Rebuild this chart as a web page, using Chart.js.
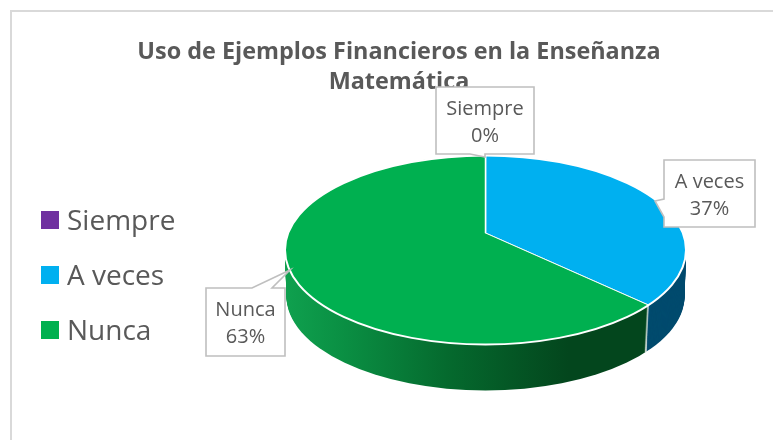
<!DOCTYPE html>
<html>
<head>
<meta charset="utf-8">
<style>html,body{margin:0;padding:0;background:#fff;overflow:hidden}canvas{display:block}</style>
<script src="https://cdn.jsdelivr.net/npm/chart.js@4"></script>
</head>
<body>
<canvas id="c" width="773" height="440" style="width:773px;height:440px"></canvas>
<script>
const titleLines = ['Uso de Ejemplos Financieros en la Enseñanza', 'Matemática'];
const categories = ['Siempre', 'A veces', 'Nunca'];
const percentages = [0, 37, 63];
const sliceColors = ['#7030A0', '#00B0F0', '#00B050'];

const FONT = '"Open Sans", sans-serif';
const GREY = '#595959';
const ELL = {x: 485.5, y: 250, rx: 200.5, ry: 94.5};
const APEX = {x: 485.5, y: 233};
const K = ELL.ry / ELL.rx;
const DEPTH = 46;

function rimFill(ctx, i, dx) {
  if (i === 1) return '#004B6E';
  const g = ctx.createLinearGradient(287 - dx, 0, 643 - dx, 0);
  g.addColorStop(0, '#0FA04E');
  g.addColorStop(0.16, '#0A8F43');
  g.addColorStop(0.45, '#056A2E');
  g.addColorStop(0.79, '#03461D');
  g.addColorStop(1, '#03461D');
  return g;
}
function drawFace(chart, drop, rim) {
  const ctx = chart.ctx;
  const arcs = chart.getDatasetMeta(0).data;
  ctx.save();
  ctx.beginPath();
  ctx.ellipse(ELL.x, ELL.y + drop, ELL.rx - drop * 0.03, ELL.ry, 0, 0, Math.PI * 2);
  ctx.clip();
  arcs.forEach((arc, i) => {
    const dx = APEX.x - arc.x - drop * 0.07;
    ctx.save();
    ctx.setTransform(1, 0, 0, K, dx, APEX.y + drop - arc.y * K);
    if (rim) {
      const o = arc.options;
      const fill = rimFill(ctx, i, dx);
      arc.options = {backgroundColor: fill, borderColor: '#fff', borderWidth: 2, borderAlign: 'center',
        borderJoinStyle: 'round', borderRadius: 0, offset: 0, spacing: 0, circular: true,
        borderDash: [], borderDashOffset: 0, selfJoin: false};
      arc.draw(ctx);
      arc.options = o;
    } else {
      arc.draw(ctx);
    }
    ctx.restore();
  });
  ctx.restore();
}
function callout(ctx, pts, lines, cx, cy) {
  ctx.save();
  ctx.beginPath();
  pts.forEach((p, i) => i ? ctx.lineTo(p[0], p[1]) : ctx.moveTo(p[0], p[1]));
  ctx.closePath();
  ctx.fillStyle = '#fff';
  ctx.fill();
  ctx.strokeStyle = '#BFBFBF';
  ctx.lineWidth = 1.6;
  ctx.stroke();
  ctx.fillStyle = GREY;
  ctx.font = '20px ' + FONT;
  ctx.textAlign = 'center';
  ctx.textBaseline = 'middle';
  ctx.fillText(lines[0], cx, cy - 13.5);
  ctx.fillText(lines[1], cx, cy + 13.5);
  ctx.restore();
}
const pie3d = {
  id: 'pie3d',
  afterLayout(chart) {
    const t = chart.titleBlock, l = chart.legend;
    t.left = 8; t.right = 790; t.top = 27;
    l.left = 8; l.top = 181; l.bottom = 400;
  },
  beforeDraw(chart) {
    const ctx = chart.ctx;
    ctx.save();
    ctx.strokeStyle = '#D9D9D9';
    ctx.lineWidth = 2;
    ctx.strokeRect(11, 11, 900, 900);
    ctx.restore();
  },
  beforeDatasetsDraw(chart) {
    for (let d = DEPTH; d >= 1; d--) drawFace(chart, d, true);
    drawFace(chart, 0, false);
    const ctx = chart.ctx;
    ctx.save();
    ctx.strokeStyle = '#fff';
    ctx.lineWidth = 2;
    ctx.beginPath();
    ctx.ellipse(ELL.x, ELL.y, ELL.rx, ELL.ry, 0, 0, Math.PI * 2);
    ctx.stroke();
    ctx.restore();
    return false;
  },
  afterDraw(chart) {
    const ctx = chart.ctx;
    const rowCentres = chart.legend.legendHitBoxes.map(b => b.top + b.height / 2);
    rowCentres.forEach((y, i) => {
      ctx.fillStyle = sliceColors[i];
      ctx.fillRect(41, Math.round(y - 11), 18, 18);
    });
    const txt = i => [categories[i], percentages[i] + '%'];
    callout(ctx, [[436, 87], [534, 87], [534, 154], [485, 154], [485, 157], [470, 154], [436, 154]], txt(0), 485, 123);
    callout(ctx, [[664, 160], [755, 160], [755, 227], [664, 227], [664, 217], [655, 201], [664, 199]], txt(1), 709.5, 195.5);
    callout(ctx, [[206, 288], [252, 288], [290, 270], [272, 288], [285, 288], [285, 356], [206, 356]], txt(2), 245.5, 324);
  }
};
new Chart(document.getElementById('c'), {
  type: 'pie',
  data: {
    labels: categories,
    datasets: [{data: percentages, backgroundColor: sliceColors, borderColor: '#fff', borderWidth: 1.5}]
  },
  options: {
    responsive: false,
    animation: false,
    radius: 270,
    plugins: {
      tooltip: {enabled: false},
      title: {
        display: true,
        text: titleLines,
        color: GREY,
        font: {family: FONT, size: 23.4, weight: 'bold', lineHeight: 30 / 23.4}
      },
      legend: {
        position: 'left',
        align: 'start',
        labels: {
          boxWidth: 18,
          boxHeight: 18,
          padding: 27,
          color: GREY,
          font: {family: FONT, size: 28},
          generateLabels(chart) {
            return Chart.overrides.pie.plugins.legend.labels.generateLabels(chart)
              .map(it => Object.assign(it, {fillStyle: 'rgba(0,0,0,0)', strokeStyle: 'rgba(0,0,0,0)', lineWidth: 0}));
          }
        }
      }
    }
  },
  plugins: [pie3d]
});
</script>
</body>
</html>
